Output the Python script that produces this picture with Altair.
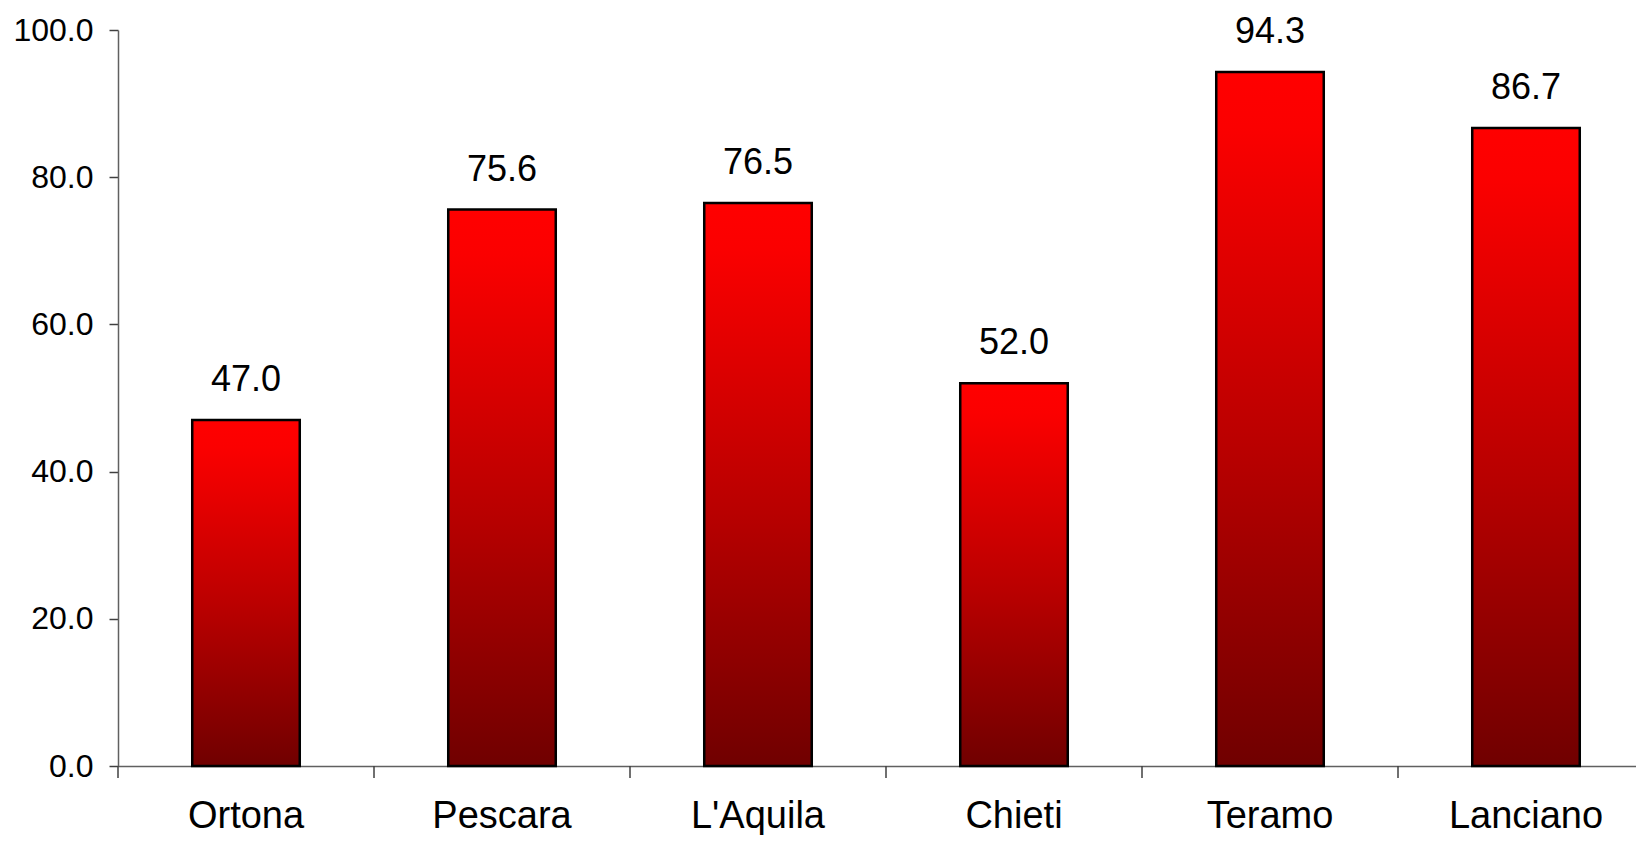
import altair as alt
import pandas as pd

cities = ["Ortona", "Pescara", "L'Aquila", "Chieti", "Teramo", "Lanciano"]
values = [47.0, 75.6, 76.5, 52.0, 94.3, 86.7]
y_ticks = [0, 20, 40, 60, 80, 100]

df = pd.DataFrame({"city": cities, "value": values})

RANGE_W = 1536
PLOT_W = 1518
PLOT_H = 736
FONT = "Liberation Sans"

xscale = alt.Scale(domain=cities, range=[0, RANGE_W], paddingInner=0, paddingOuter=0)
yscale = alt.Scale(domain=[0, 100], nice=False, zero=True)

grad = alt.Gradient(
    gradient="linear",
    stops=[
        alt.GradientStop(color="#ff0000", offset=0),
        alt.GradientStop(color="#fb0000", offset=0.08),
        alt.GradientStop(color="#b80000", offset=0.55),
        alt.GradientStop(color="#700000", offset=1),
    ],
    x1=0, x2=0, y1=0, y2=1,
)

base = alt.Chart(df)

bars = base.mark_bar(
    color=grad, stroke="black", strokeWidth=2.5, width=alt.RelativeBandSize(0.42)
).encode(
    x=alt.X(
        "city:N", scale=xscale, sort=cities,
        axis=alt.Axis(
            title=None, labelAngle=0, ticks=False, tickSize=0,
            labelFont=FONT, labelFontSize=38, labelColor="black",
            labelBaseline="alphabetic", labelPadding=61,
            domainColor="#606060", domainWidth=1.5, grid=False,
        ),
    ),
    y=alt.Y(
        "value:Q", scale=yscale,
        axis=alt.Axis(
            title=None, values=y_ticks, format=".1f", grid=False,
            labelFont=FONT, labelFontSize=32, labelColor="black",
            labelPadding=16, tickSize=9, tickColor="#404040", tickWidth=1.5,
            domainColor="#606060", domainWidth=1.5,
        ),
    ),
)

labels = base.mark_text(
    font=FONT, fontSize=36, baseline="alphabetic", dy=-29, color="black"
).encode(
    x=alt.X("city:N", sort=cities),
    y=alt.Y("value:Q"),
    text=alt.Text("value:Q", format=".1f"),
)

ticks = base.mark_rule(color="#404040", strokeWidth=1.5).encode(
    x=alt.X("city:N", sort=cities, bandPosition=0),
    y=alt.value(PLOT_H),
    y2=alt.value(PLOT_H + 12),
)

chart = (
    alt.layer(bars, labels, ticks)
    .properties(
        width=PLOT_W,
        height=PLOT_H,
        autosize=alt.AutoSizeParams(type="none"),
        padding={"left": 110, "top": 22, "right": 0, "bottom": 69},
    )
    .configure_view(stroke=None)
)

chart.save("out.html", embed_options={"renderer": "svg", "actions": False})
